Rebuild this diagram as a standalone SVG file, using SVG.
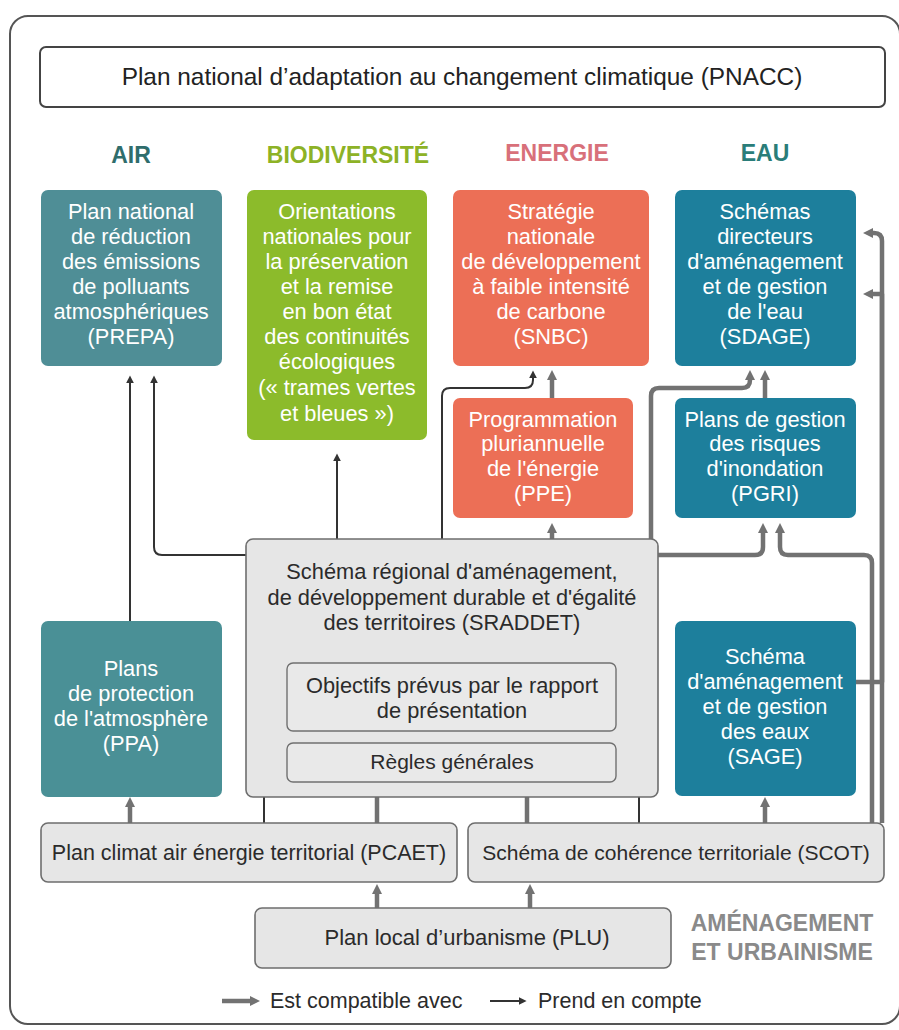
<svg xmlns="http://www.w3.org/2000/svg" width="899" height="1030" viewBox="0 0 899 1030">
<defs>
<style>
text{font-family:"Liberation Sans","Arial","DejaVu Sans",sans-serif;text-anchor:middle}
.w{fill:#ffffff;font-size:21.8px}
.d{fill:#2b2b2b;font-size:21.8px}
.h{font-size:23px;font-weight:bold}
.g{fill:#e6e6e6;stroke:#6e6e6e;stroke-width:1.6}
.gi{fill:#e9e9e9;stroke:#707070;stroke-width:1.4}
.c{fill:none;stroke:#727272;stroke-width:4.5;stroke-linejoin:round}
.t{fill:none;stroke:#333333;stroke-width:2;stroke-linejoin:round}
</style>
<marker id="ac" viewBox="0 0 10 10" refX="3" refY="5" markerWidth="10" markerHeight="10" markerUnits="userSpaceOnUse" orient="auto"><path d="M0,0 L10,5 L0,10 z" fill="#727272"/></marker>
<marker id="at" viewBox="0 0 10 10" refX="3" refY="5" markerWidth="8" markerHeight="8" markerUnits="userSpaceOnUse" orient="auto"><path d="M0,0 L10,5 L0,10 z" fill="#333333"/></marker>
</defs>
<rect x="10" y="16" width="890" height="1008" rx="18" fill="#ffffff" stroke="#555555" stroke-width="2"/>

<g id="pnacc">
<rect x="40" y="47" width="845" height="60" rx="6" fill="#ffffff" stroke="#444444" stroke-width="2"/>
<text x="462" y="85" style="fill:#222;font-size:24.4px">Plan national d’adaptation au changement climatique (PNACC)</text>
</g>

<g id="headings">
<text class="h" x="131" y="163" fill="#2f6d6c">AIR</text>
<text class="h" x="348" y="163" fill="#8db226">BIODIVERSITÉ</text>
<text class="h" x="557" y="161" fill="#d8707a">ENERGIE</text>
<text class="h" x="765" y="161" fill="#2a7d79">EAU</text>
</g>

<g id="connectors">
<path class="c" d="M130,823 V804" marker-end="url(#ac)"/>
<path class="c" d="M377,908 V891" marker-end="url(#ac)"/>
<path class="c" d="M530,908 V891" marker-end="url(#ac)"/>
<path class="c" d="M377,823 V783"/>
<path class="c" d="M527,823 V783"/>
<path class="c" d="M552,539 V530" marker-end="url(#ac)"/>
<path class="c" d="M552,398 V377" marker-end="url(#ac)"/>
<path class="c" d="M651,539 V396 Q651,388 659,388 H742 Q750,388 750,380 V377" marker-end="url(#ac)"/>
<path class="c" d="M765,398 V377" marker-end="url(#ac)"/>
<path class="c" d="M658,555 H755 Q763,555 763,547 V530" marker-end="url(#ac)"/>
<path class="c" d="M872,823 V563 Q872,555 864,555 H788 Q780,555 780,547 V530" marker-end="url(#ac)"/>
<path class="c" d="M882,823 V241 Q882,233 874,233 H870" marker-end="url(#ac)"/>
<path class="c" d="M856,682 H882 V294 H870" marker-end="url(#ac)"/>
<path class="c" d="M765,823 V804" marker-end="url(#ac)"/>
<path class="t" d="M130,621 V381" marker-end="url(#at)"/>
<path class="t" d="M246,555 H162 Q154,555 154,547 V381" marker-end="url(#at)"/>
<path class="t" d="M337,539 V459" marker-end="url(#at)"/>
<path class="t" d="M442,539 V396 Q442,388 450,388 H525 Q533,388 533,380 V376" marker-end="url(#at)"/>
<path class="t" d="M264,823 V705 Q264,697 272,697 H278" marker-end="url(#at)"/>
<path class="t" d="M639,823 V705 Q639,697 631,697 H627" marker-end="url(#at)"/>
</g>

<g id="prepa">
<rect x="41" y="190" width="181" height="176" rx="7" fill="#4f8e96"/>
<text class="w" x="131" y="219">Plan national</text>
<text class="w" x="131" y="244">de réduction</text>
<text class="w" x="131" y="269">des émissions</text>
<text class="w" x="131" y="294">de polluants</text>
<text class="w" x="131" y="319">atmosphériques</text>
<text class="w" x="131" y="344">(PREPA)</text>
</g>

<g id="biodiversite">
<rect x="247" y="190" width="180" height="250" rx="7" fill="#8cbb2b"/>
<text class="w" x="337" y="219">Orientations</text>
<text class="w" x="337" y="244">nationales pour</text>
<text class="w" x="337" y="269">la préservation</text>
<text class="w" x="337" y="294">et la remise</text>
<text class="w" x="337" y="319">en bon état</text>
<text class="w" x="337" y="344">des continuités</text>
<text class="w" x="337" y="369">écologiques</text>
<text class="w" x="337" y="395">(« trames vertes</text>
<text class="w" x="337" y="421">et bleues »)</text>
</g>

<g id="snbc">
<rect x="453" y="190" width="196" height="176" rx="7" fill="#ec6f56"/>
<text class="w" x="551" y="219">Stratégie</text>
<text class="w" x="551" y="244">nationale</text>
<text class="w" x="551" y="269">de développement</text>
<text class="w" x="551" y="294">à faible intensité</text>
<text class="w" x="551" y="319">de carbone</text>
<text class="w" x="551" y="344">(SNBC)</text>
</g>

<g id="sdage">
<rect x="675" y="190" width="181" height="176" rx="7" fill="#1d7f9c"/>
<text class="w" x="765" y="219">Schémas</text>
<text class="w" x="765" y="244">directeurs</text>
<text class="w" x="765" y="269">d'aménagement</text>
<text class="w" x="765" y="294">et de gestion</text>
<text class="w" x="765" y="319">de l'eau</text>
<text class="w" x="765" y="344">(SDAGE)</text>
</g>

<g id="ppe">
<rect x="453" y="398" width="180" height="120" rx="7" fill="#ec6f56"/>
<text class="w" x="543" y="427">Programmation</text>
<text class="w" x="543" y="451">pluriannuelle</text>
<text class="w" x="543" y="476">de l'énergie</text>
<text class="w" x="543" y="501">(PPE)</text>
</g>

<g id="pgri">
<rect x="675" y="398" width="181" height="120" rx="7" fill="#1d7f9c"/>
<text class="w" x="765" y="427">Plans de gestion</text>
<text class="w" x="765" y="451">des risques</text>
<text class="w" x="765" y="476">d'inondation</text>
<text class="w" x="765" y="501">(PGRI)</text>
</g>

<g id="sraddet">
<rect class="g" x="246" y="539" width="412" height="258" rx="7"/>
<text class="d" x="452" y="579">Schéma régional d'aménagement,</text>
<text class="d" x="452" y="605">de développement durable et d'égalité</text>
<text class="d" x="452" y="630">des territoires (SRADDET)</text>
</g>

<g id="objectifs">
<rect class="gi" x="287" y="663" width="329" height="68" rx="6"/>
<text class="d" x="452" y="693">Objectifs prévus par le rapport</text>
<text class="d" x="452" y="718">de présentation</text>
</g>

<g id="regles">
<rect class="gi" x="287" y="743" width="329" height="39" rx="6"/>
<text class="d" x="452" y="769" style="font-size:21px">Règles générales</text>
</g>

<g id="ppa">
<rect x="41" y="621" width="181" height="176" rx="7" fill="#4a9096"/>
<text class="w" x="131" y="676">Plans</text>
<text class="w" x="131" y="701">de protection</text>
<text class="w" x="131" y="726">de l'atmosphère</text>
<text class="w" x="131" y="751">(PPA)</text>
</g>

<g id="sage">
<rect x="675" y="621" width="181" height="175" rx="7" fill="#1d7f9c"/>
<text class="w" x="765" y="664">Schéma</text>
<text class="w" x="765" y="689">d'aménagement</text>
<text class="w" x="765" y="714">et de gestion</text>
<text class="w" x="765" y="739">des eaux</text>
<text class="w" x="765" y="764">(SAGE)</text>
</g>

<g id="pcaet">
<rect class="g" x="41" y="823" width="416" height="59" rx="7"/>
<text class="d" x="249" y="860" style="font-size:21.5px">Plan climat air énergie territorial (PCAET)</text>
</g>

<g id="scot">
<rect class="g" x="468" y="823" width="416" height="59" rx="7"/>
<text class="d" x="676" y="860" style="font-size:21px">Schéma de cohérence territoriale (SCOT)</text>
</g>

<g id="plu">
<rect class="g" x="255" y="908" width="416" height="60" rx="7"/>
<text class="d" x="467" y="945" style="font-size:22px">Plan local d’urbanisme (PLU)</text>
</g>

<g id="amenagement">
<text class="h" x="782" y="931" fill="#8a8a8a">AMÉNAGEMENT</text>
<text class="h" x="782" y="960" fill="#8a8a8a">ET URBAINISME</text>
</g>

<g id="legend">
<path class="c" d="M222,1001 H253" marker-end="url(#ac)"/>
<text class="d" x="270" y="1008" style="text-anchor:start;font-size:21.5px">Est compatible avec</text>
<path class="t" d="M490,1001 H521" marker-end="url(#at)"/>
<text class="d" x="538" y="1008" style="text-anchor:start;font-size:21.5px">Prend en compte</text>
</g>
</svg>
